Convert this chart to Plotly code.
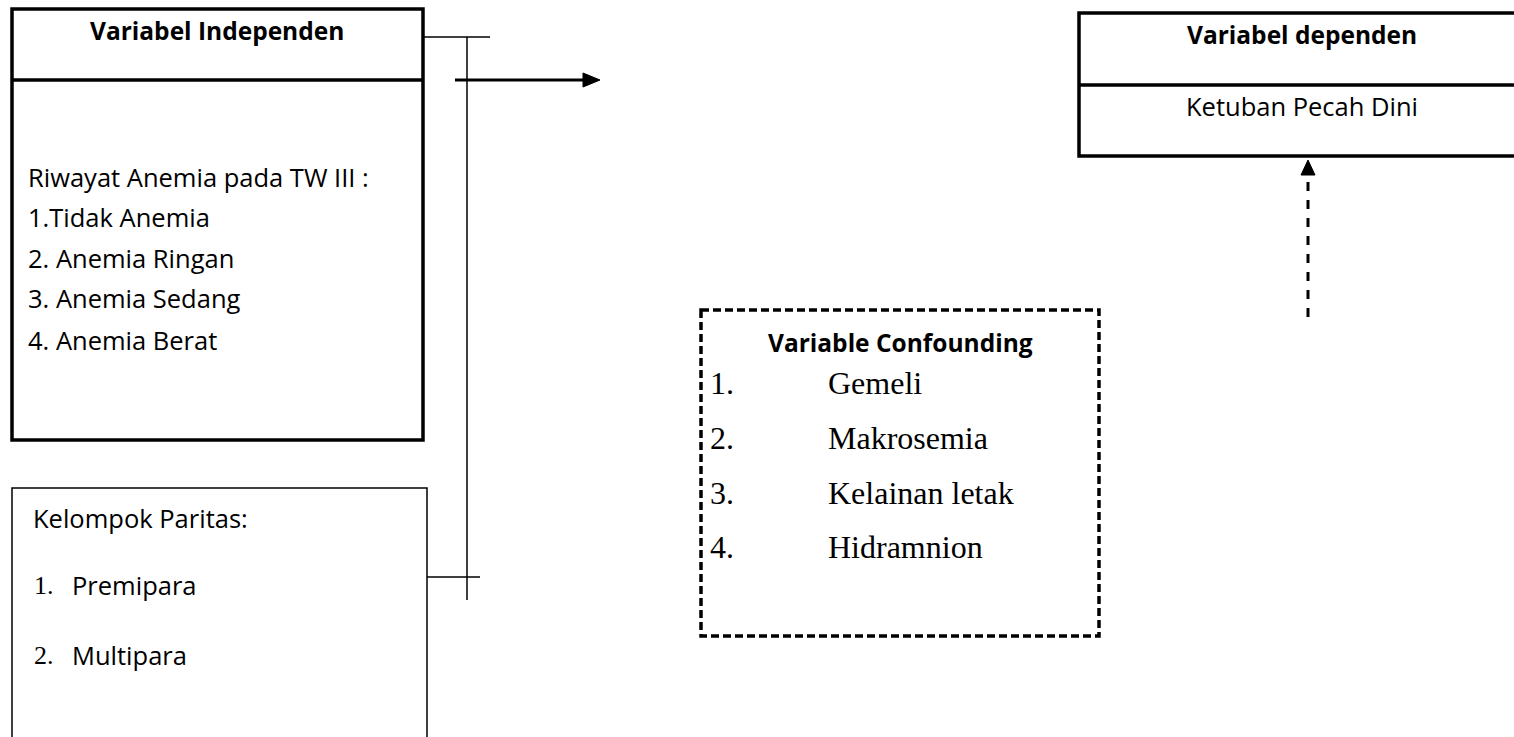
import plotly.graph_objects as go

W, H = 1514, 737
SANS = "Open Sans"
SERIF = "Liberation Serif"
REG = 25.5
BOLD = 24.5

# ---- text content ----
indep_title = "Variabel Independen"
indep_intro = "Riwayat Anemia pada TW III :"
indep_items = ["1.Tidak Anemia", "2. Anemia Ringan", "3. Anemia Sedang", "4. Anemia Berat"]
indep_item_y = [217, 258, 298, 340]

dep_title = "Variabel dependen"
dep_item = "Ketuban Pecah Dini"

conf_title = "Variable Confounding"
conf_nums = ["1.", "2.", "3.", "4."]
conf_items = ["Gemeli", "Makrosemia", "Kelainan letak", "Hidramnion"]
conf_item_y = [383, 438, 493, 547]

par_title = "Kelompok Paritas:"
par_nums = ["1.", "2."]
par_items = ["Premipara", "Multipara"]
par_item_y = [585, 655]

fig = go.Figure()
shapes = []
ann = []

def line(x0, y0, x1, y1, w=1.5, dash="solid"):
    shapes.append(dict(type="line", x0=x0, y0=y0, x1=x1, y1=y1,
                       line=dict(color="black", width=w, dash=dash)))

def text(x, y, s, size=REG, family=SANS, anchor="left", bold=False):
    ann.append(dict(x=x, y=y, text=f"<b>{s}</b>" if bold else s, showarrow=False,
                    xanchor=anchor, yanchor="middle",
                    font=dict(family=family, size=size, color="black")))

# Independent box
shapes.append(dict(type="rect", x0=12, y0=9, x1=423, y1=440,
                   line=dict(color="black", width=3.5)))
line(12, 80, 423, 80, 3.5)
text(217, 30, indep_title, BOLD, bold=True, anchor="center")
text(26, 177, indep_intro)
for s, y in zip(indep_items, indep_item_y):
    text(26, y, s)

# Parity box (extends beyond bottom)
shapes.append(dict(type="rect", x0=12, y0=488, x1=427, y1=760,
                   line=dict(color="black", width=1.5)))
text(31, 518, par_title)
for n, s, y in zip(par_nums, par_items, par_item_y):
    text(32, y, n, 26, family=SERIF)
    text(70, y, s)

# connectors
line(423, 37, 490, 37, 1.5)
line(427, 577, 480, 577, 1.5)
line(467, 37, 467, 600, 1.5)

# solid arrow
line(455, 80, 586, 80, 3)
shapes.append(dict(type="path", path="M 583 73 L 600 80 L 583 87 Z",
                   fillcolor="black", line=dict(color="black", width=1)))

# Dependent box (extends beyond right edge)
shapes.append(dict(type="rect", x0=1079, y0=13, x1=1530, y1=156,
                   line=dict(color="black", width=3.5)))
line(1079, 85, 1530, 85, 3.5)
text(1302, 34, dep_title, BOLD, bold=True, anchor="center")
text(1302, 106, dep_item, anchor="center")

# dashed arrow
line(1308, 182, 1308, 323, 3, dash="9px,9px")
shapes.append(dict(type="path", path="M 1301 175 L 1308 160 L 1315 175 Z",
                   fillcolor="black", line=dict(color="black", width=1)))

# Confounding box (dashed)
shapes.append(dict(type="rect", x0=701, y0=310, x1=1099, y1=636,
                   line=dict(color="black", width=3.5, dash="8px,4px")))
text(900, 342, conf_title, BOLD, bold=True, anchor="center")
for n, s, y in zip(conf_nums, conf_items, conf_item_y):
    text(708, y, n, 32, family=SERIF)
    text(826, y, s, 32, family=SERIF)

fig.update_layout(
    width=W, height=H, margin=dict(l=0, r=0, t=0, b=0),
    paper_bgcolor="white", plot_bgcolor="white",
    xaxis=dict(range=[0, W], visible=False, fixedrange=True),
    yaxis=dict(range=[H, 0], visible=False, fixedrange=True),
    shapes=shapes, annotations=ann, showlegend=False,
)
fig.write_html("out.html", config={"displayModeBar": False},
               post_script="document.body.style.margin='0';document.body.style.overflow='hidden';")
